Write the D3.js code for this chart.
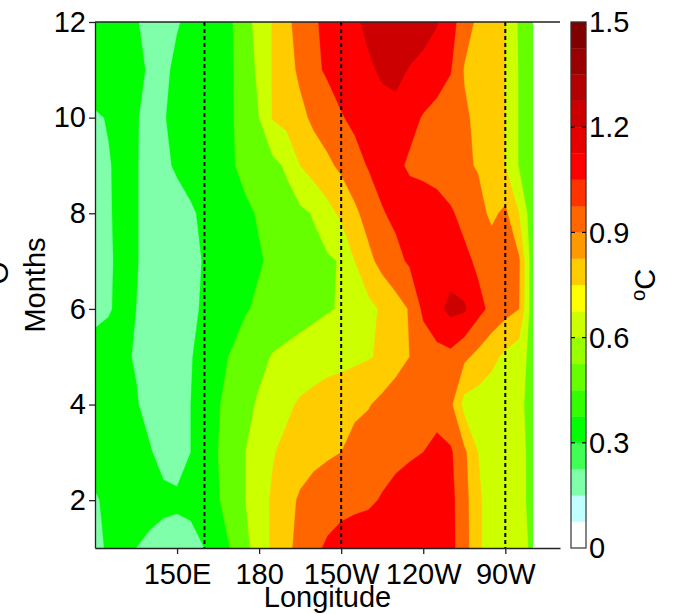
<!DOCTYPE html>
<html>
<head>
<meta charset="utf-8">
<script src="https://cdn.jsdelivr.net/npm/d3@7/dist/d3.min.js"></script>
<style>
  body { margin: 0; background: #fff; }
  text { font-family: "Liberation Sans", Arial, Helvetica, sans-serif; fill: #000; }
</style>
</head>
<body>
<svg id="chart" width="675" height="614"></svg>
<script>
// Longitude grid (degrees east) and month rows of the anomaly field (°C)
const lonGrid = [120,125,130,135,140,145,150,155,160,165,170,175,180,185,190,195,200,
                 205,210,215,220,225,230,235,240,245,250,255,260,265,270,275,280];
const months = [1,2,3,4,5,6,7,8,9,10,11,12];

const month1  = [0.28,0.31,0.33,0.30,0.27,0.25,0.25,0.26,0.30,0.38,0.46,0.56,0.68,0.77,0.86,0.95,1.02,1.07,1.10,1.12,1.13,1.14,1.14,1.14,1.13,1.12,1.09,0.97,0.77,0.70,0.67,0.64,0.58];
const month2  = [0.29,0.32,0.34,0.35,0.35,0.33,0.32,0.33,0.38,0.44,0.52,0.60,0.69,0.77,0.85,0.92,0.96,0.99,1.01,1.02,1.03,1.06,1.10,1.13,1.15,1.13,1.09,0.96,0.77,0.70,0.68,0.65,0.55];
const month3  = [0.34,0.35,0.36,0.34,0.31,0.26,0.25,0.30,0.39,0.45,0.52,0.60,0.67,0.74,0.79,0.83,0.86,0.88,0.90,0.95,0.98,1.00,1.01,1.03,1.05,1.10,1.07,0.93,0.75,0.70,0.68,0.65,0.55];
const month4  = [0.36,0.38,0.36,0.31,0.26,0.24,0.28,0.30,0.38,0.44,0.50,0.56,0.62,0.67,0.72,0.77,0.80,0.83,0.85,0.87,0.89,0.94,0.98,1.00,1.00,0.98,0.93,0.70,0.68,0.66,0.65,0.63,0.55];
const month5  = [0.33,0.35,0.32,0.29,0.24,0.21,0.23,0.29,0.36,0.42,0.46,0.51,0.56,0.61,0.63,0.65,0.67,0.69,0.70,0.72,0.74,0.77,0.84,0.90,0.96,1.00,1.01,0.93,0.86,0.79,0.72,0.66,0.55];
const month6  = [0.28,0.29,0.33,0.30,0.25,0.21,0.22,0.27,0.32,0.37,0.40,0.44,0.47,0.50,0.53,0.55,0.57,0.59,0.61,0.66,0.71,0.77,0.84,0.91,1.08,1.16,1.24,1.22,1.10,1.01,0.95,0.90,0.50];
const month7  = [0.27,0.29,0.32,0.31,0.25,0.22,0.22,0.26,0.31,0.35,0.39,0.42,0.44,0.47,0.51,0.54,0.56,0.58,0.61,0.75,0.86,0.95,1.01,1.07,1.12,1.15,1.13,1.09,1.02,0.98,0.95,0.92,0.50];
const month8  = [0.27,0.29,0.33,0.31,0.25,0.23,0.24,0.28,0.33,0.37,0.40,0.43,0.46,0.50,0.54,0.57,0.61,0.70,0.78,0.87,0.96,1.04,1.08,1.12,1.15,1.12,1.07,1.00,0.95,0.87,0.93,0.75,0.50];
const month9  = [0.26,0.29,0.34,0.31,0.25,0.27,0.32,0.36,0.39,0.42,0.44,0.48,0.52,0.56,0.62,0.75,0.82,0.87,0.93,1.00,1.06,1.10,1.08,1.03,1.00,0.98,0.95,0.92,0.89,0.82,0.75,0.59,0.48];
const month10 = [0.28,0.31,0.35,0.31,0.26,0.29,0.34,0.37,0.40,0.42,0.44,0.51,0.60,0.76,0.80,0.86,0.93,0.98,1.04,1.08,1.12,1.15,1.14,1.09,1.04,1.00,0.96,0.92,0.87,0.81,0.75,0.59,0.48];
const month11 = [0.40,0.38,0.35,0.32,0.29,0.27,0.33,0.37,0.40,0.42,0.44,0.53,0.63,0.76,0.84,0.93,1.02,1.07,1.11,1.14,1.18,1.22,1.25,1.19,1.15,1.12,1.06,0.89,0.85,0.80,0.75,0.59,0.48];
const month12 = [0.38,0.36,0.34,0.31,0.26,0.24,0.29,0.33,0.37,0.40,0.44,0.56,0.64,0.76,0.87,0.95,1.03,1.09,1.13,1.18,1.23,1.28,1.32,1.31,1.27,1.21,1.11,0.97,0.87,0.82,0.76,0.58,0.48];

// Filled contour levels
const fillLevels = [0,0.15,0.3,0.45,0.6,0.75,0.9,1.05,1.2,1.35];

// Colour bar: band edges and colours
const cbarEdges = [0,0.075,0.15,0.225,0.3,0.375,0.45,0.525,0.6,0.675,0.75,
                   0.825,0.9,0.975,1.05,1.125,1.2,1.275,1.35,1.425,1.5];
const cbarColors = ["#ffffff","#c0ffff","#80ffaa","#40ff55","#00ff00","#33ff00","#66ff00",
                    "#99ff00","#ccff00","#ffff00","#ffcc00","#ff9900","#ff6600","#ff3300",
                    "#ff0000","#e60000","#cc0000","#b30000","#990000","#800000"];
const cbarTicks = [0,0.3,0.6,0.9,1.2,1.5];

// Axis ticks
const lonTicks = [150,180,210,240,270];
const lonLabels = ["150E","180","150W","120W","90W"];
const monthTicks = [2,4,6,8,10,12];
// Dashed reference meridians
const refLons = [160,210,270];

const svg = d3.select("#chart");
const FS = 29;

const x = d3.scaleLinear().domain([120, 290]).range([95, 560]);
const y = d3.scaleLinear().domain([1, 12]).range([548, 22]);

const rows = [month1,month2,month3,month4,month5,month6,month7,month8,month9,month10,month11,month12];
const values = rows.flat();
const nx = lonGrid.length, ny = rows.length;

// grid sample i sits at contour coordinate i + 0.5
const gx = d3.scaleLinear().domain([0.5, nx - 0.5]).range([x(lonGrid[0]), x(lonGrid[nx - 1])]);
const gy = d3.scaleLinear().domain([0.5, ny - 0.5]).range([y(months[0]), y(months[ny - 1])]);
const path = d3.geoPath(d3.geoTransform({
  point(px, py) { this.stream.point(gx(px), gy(py)); }
}));

const bandColor = d3.scaleThreshold().domain(cbarEdges.slice(1, -1)).range(cbarColors);

svg.append("clipPath").attr("id", "dataClip").append("rect")
  .attr("x", x(lonGrid[0])).attr("y", y(months[ny - 1]))
  .attr("width", x(lonGrid[nx - 1]) - x(lonGrid[0]))
  .attr("height", y(months[0]) - y(months[ny - 1]));

const contours = d3.contours().size([nx, ny]).thresholds(fillLevels)(values);
svg.append("g").attr("clip-path", "url(#dataClip)")
  .selectAll("path").data(contours).join("path")
  .attr("d", path)
  .attr("fill", d => bandColor(d.value))
  .attr("stroke", d => bandColor(d.value))
  .attr("stroke-width", 0.3);

// dashed meridians
svg.append("g").selectAll("line").data(refLons).join("line")
  .attr("x1", d => x(d)).attr("x2", d => x(d))
  .attr("y1", y(12)).attr("y2", y(1))
  .attr("stroke", "#000").attr("stroke-width", 2).attr("stroke-dasharray", "4,3");

// axes
const xAxis = svg.append("g").attr("transform", `translate(0,${y(1)})`)
  .call(d3.axisBottom(x).tickValues(lonTicks).tickFormat((d, i) => lonLabels[i])
    .tickSize(6).tickSizeOuter(0).tickPadding(9));
const yAxis = svg.append("g").attr("transform", `translate(${x(120)},0)`)
  .call(d3.axisLeft(y).tickValues(monthTicks).tickSize(6).tickSizeOuter(0).tickPadding(3));
[xAxis, yAxis].forEach(g => {
  g.selectAll("text").attr("font-size", FS).attr("font-family", null).attr("fill", "#000");
  g.select(".domain").attr("stroke", "#222").attr("stroke-width", 1.3);
  g.selectAll(".tick line").attr("stroke", "#222").attr("stroke-width", 1.3);
});
// top border
svg.append("line").attr("x1", x(120)).attr("x2", x(290)).attr("y1", y(12)).attr("y2", y(12))
  .attr("stroke", "#222").attr("stroke-width", 1.5);

// axis titles
svg.append("text").attr("x", (x(120) + x(290)) / 2).attr("y", 607)
  .attr("text-anchor", "middle").attr("font-size", FS).text("Longitude");
svg.append("text").attr("transform", `translate(45,${(y(1) + y(12)) / 2}) rotate(-90)`)
  .attr("text-anchor", "middle").attr("font-size", FS).text("Months");
svg.append("text").attr("transform", `translate(8,273) rotate(-90)`)
  .attr("text-anchor", "middle").attr("font-size", FS).text("O");

// colour bar
const cb = { x: 571, w: 15 };
const cy = d3.scaleLinear().domain([0, 1.5]).range([y(1), y(12)]);
const cbg = svg.append("g");
cbg.selectAll("rect.band").data(cbarColors).join("rect").attr("class", "band")
  .attr("x", cb.x).attr("width", cb.w)
  .attr("y", (d, i) => cy(cbarEdges[i + 1]))
  .attr("height", (d, i) => cy(cbarEdges[i]) - cy(cbarEdges[i + 1]))
  .attr("fill", d => d).attr("stroke", d => d).attr("stroke-width", 0.3);
cbg.append("rect").attr("x", cb.x).attr("y", cy(1.5)).attr("width", cb.w)
  .attr("height", cy(0) - cy(1.5)).attr("fill", "none").attr("stroke", "#333").attr("stroke-width", 1.2);
const inner = cbarTicks.slice(1, -1);
cbg.selectAll("line.tl").data(inner).join("line").attr("class", "tl")
  .attr("x1", cb.x).attr("x2", cb.x + 4).attr("y1", d => cy(d)).attr("y2", d => cy(d))
  .attr("stroke", "#000").attr("stroke-width", 1.2);
cbg.selectAll("line.tr").data(inner).join("line").attr("class", "tr")
  .attr("x1", cb.x + cb.w - 4).attr("x2", cb.x + cb.w).attr("y1", d => cy(d)).attr("y2", d => cy(d))
  .attr("stroke", "#000").attr("stroke-width", 1.2);
cbg.selectAll("text").data(cbarTicks).join("text")
  .attr("x", cb.x + cb.w + 3).attr("y", d => cy(d)).attr("dy", "0.35em")
  .attr("font-size", FS).text(d => d === 0 ? "0" : d.toFixed(1));

const unit = svg.append("text").attr("transform", `translate(655,${(y(1) + y(12)) / 2}) rotate(-90)`)
  .attr("text-anchor", "middle").attr("font-size", FS);
unit.append("tspan").attr("font-size", FS * 0.7).attr("dy", -10).text("o");
unit.append("tspan").attr("dy", 10).text("C");
</script>
</body>
</html>
